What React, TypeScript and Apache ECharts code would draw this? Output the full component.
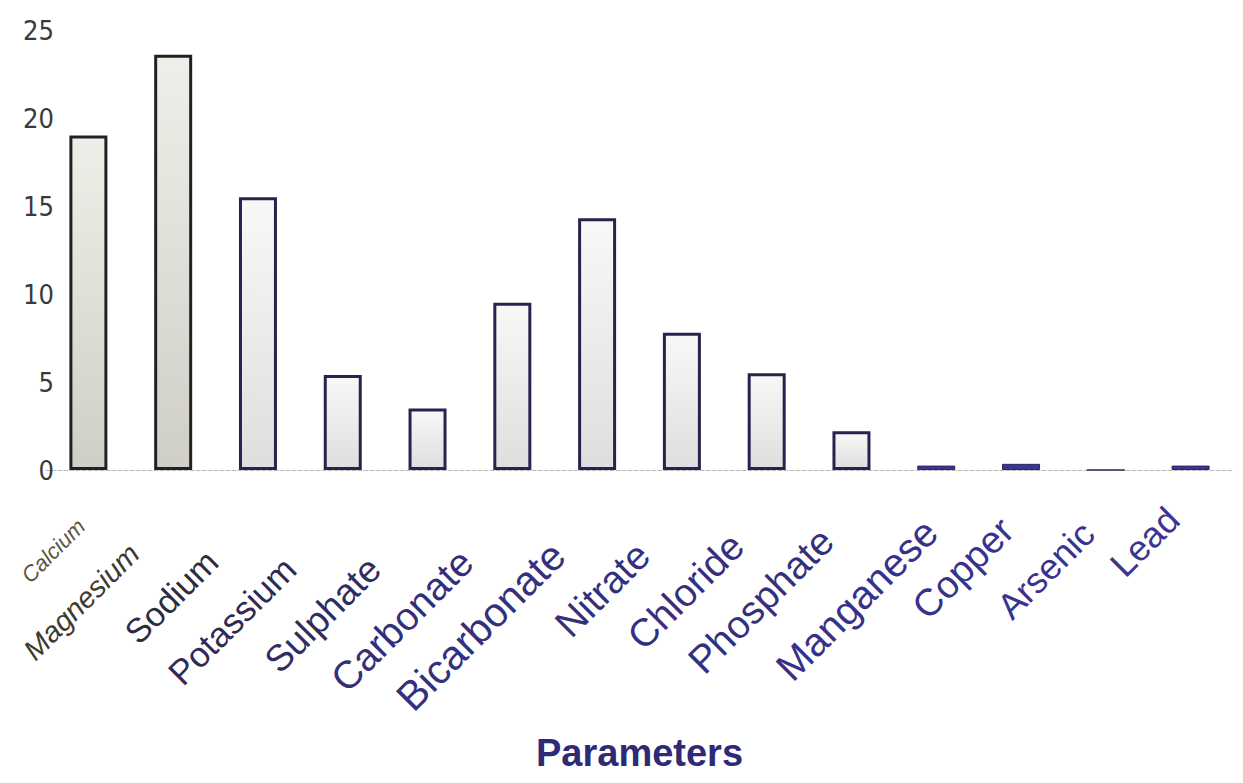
import React, { useEffect, useRef } from "react";
import * as echarts from "echarts";

const categories = [
  "Calcium", "Magnesium", "Sodium", "Potassium", "Sulphate", "Carbonate", "Bicarbonate",
  "Nitrate", "Chloride", "Phosphate", "Manganese", "Copper", "Arsenic", "Lead",
];
const values = [19, 23.6, 15.5, 5.4, 3.5, 9.5, 14.3, 7.8, 5.5, 2.2, 0.25, 0.35, 0, 0.25];
const yTicks = [0, 5, 10, 15, 20, 25];

// styling (photo perspective makes label sizes / tints / offsets vary across the axis)
const labelSizes = [22, 29, 34, 35, 37, 39, 41, 39, 39, 39, 40, 38, 36, 36];
const labelPadRight = [14, 55, 65, 75, 75, 65, 55, 55, 42, 35, 15, 20, 25, 15];
const labelPadTop = [8, 0, 0, 0, 0, 0, 0, 0, 0, 0, 14, 0, 0, 0];
const labelPadBottom = [0, 0, 0, 0, 0, 0, 0, 0, 0, 0, 0, 0, 0, 20];
const labelColors = [
  "#5a5545", "#3e3a30", "#2e2b40", "#2f2b55", "#302c62", "#332e78", "#35307e",
  "#35307e", "#35307e", "#35307e", "#36318a", "#37328f", "#38338f", "#3a3592",
];

export default function App() {
  const ref = useRef<HTMLDivElement>(null);
  useEffect(() => {
    if (!ref.current) return;
    const chart = echarts.init(ref.current, null, { renderer: "svg" });
    const rich: Record<string, any> = {};
    categories.forEach((_, i) => {
      rich["t" + i] = {
        fontFamily: "Liberation Sans",
        fontSize: labelSizes[i],
        fontStyle: i < 2 ? "italic" : "normal",
        color: labelColors[i],
        padding: [labelPadTop[i], labelPadRight[i], labelPadBottom[i], 0],
      };
    });
    chart.setOption({
      animation: false,
      backgroundColor: "#ffffff",
      grid: { left: 38, right: 2, top: 22, bottom: 305, outerBoundsMode: "none", containLabel: false },
      xAxis: {
        type: "category",
        data: categories,
        name: "Parameters",
        nameLocation: "middle",
        nameGap: 264,
        nameTextStyle: { fontFamily: "Liberation Sans", fontSize: 38, fontWeight: "bold", color: "#2e2a78" },
        axisLine: { show: true, lineStyle: { color: "#bbbbbb", type: "dashed", width: 1 } },
        axisTick: { show: false },
        axisLabel: {
          interval: 0,
          rotate: 45,
          margin: 40,
          formatter: (v: string, i: number) => `{t${i}|${v}}`,
          rich,
        },
      },
      yAxis: {
        type: "value",
        min: yTicks[0],
        max: yTicks[yTicks.length - 1],
        interval: 5,
        axisLine: { show: false },
        axisTick: { show: false },
        splitLine: { show: false },
        axisLabel: {
          fontFamily: "DejaVu Sans Condensed",
          fontSize: 27,
          color: "#3a3a3a",
          margin: -8,
        },
      },
      series: [
        {
          type: "bar",
          barWidth: 38,
          data: values.map((v, i) =>
            v < 1
              ? { value: v, itemStyle: { color: "#3b3590", borderColor: "#2b2860", borderWidth: 1 } }
              : {
                  value: v,
                  itemStyle: {
                    color: new echarts.graphic.LinearGradient(0, 0, 0, 1, [
                      { offset: 0, color: i < 2 ? "#efefe9" : "#f8f8f6" },
                      { offset: 1, color: i < 2 ? "#cfcfc8" : "#dedede" },
                    ]),
                    borderColor: i < 2 ? "#241f22" : "#26234e",
                    borderWidth: 3,
                  },
                }
          ),
        },
      ],
    });
    return () => chart.dispose();
  }, []);
  return <div ref={ref} style={{ width: 1227, height: 767 }} />;
}
